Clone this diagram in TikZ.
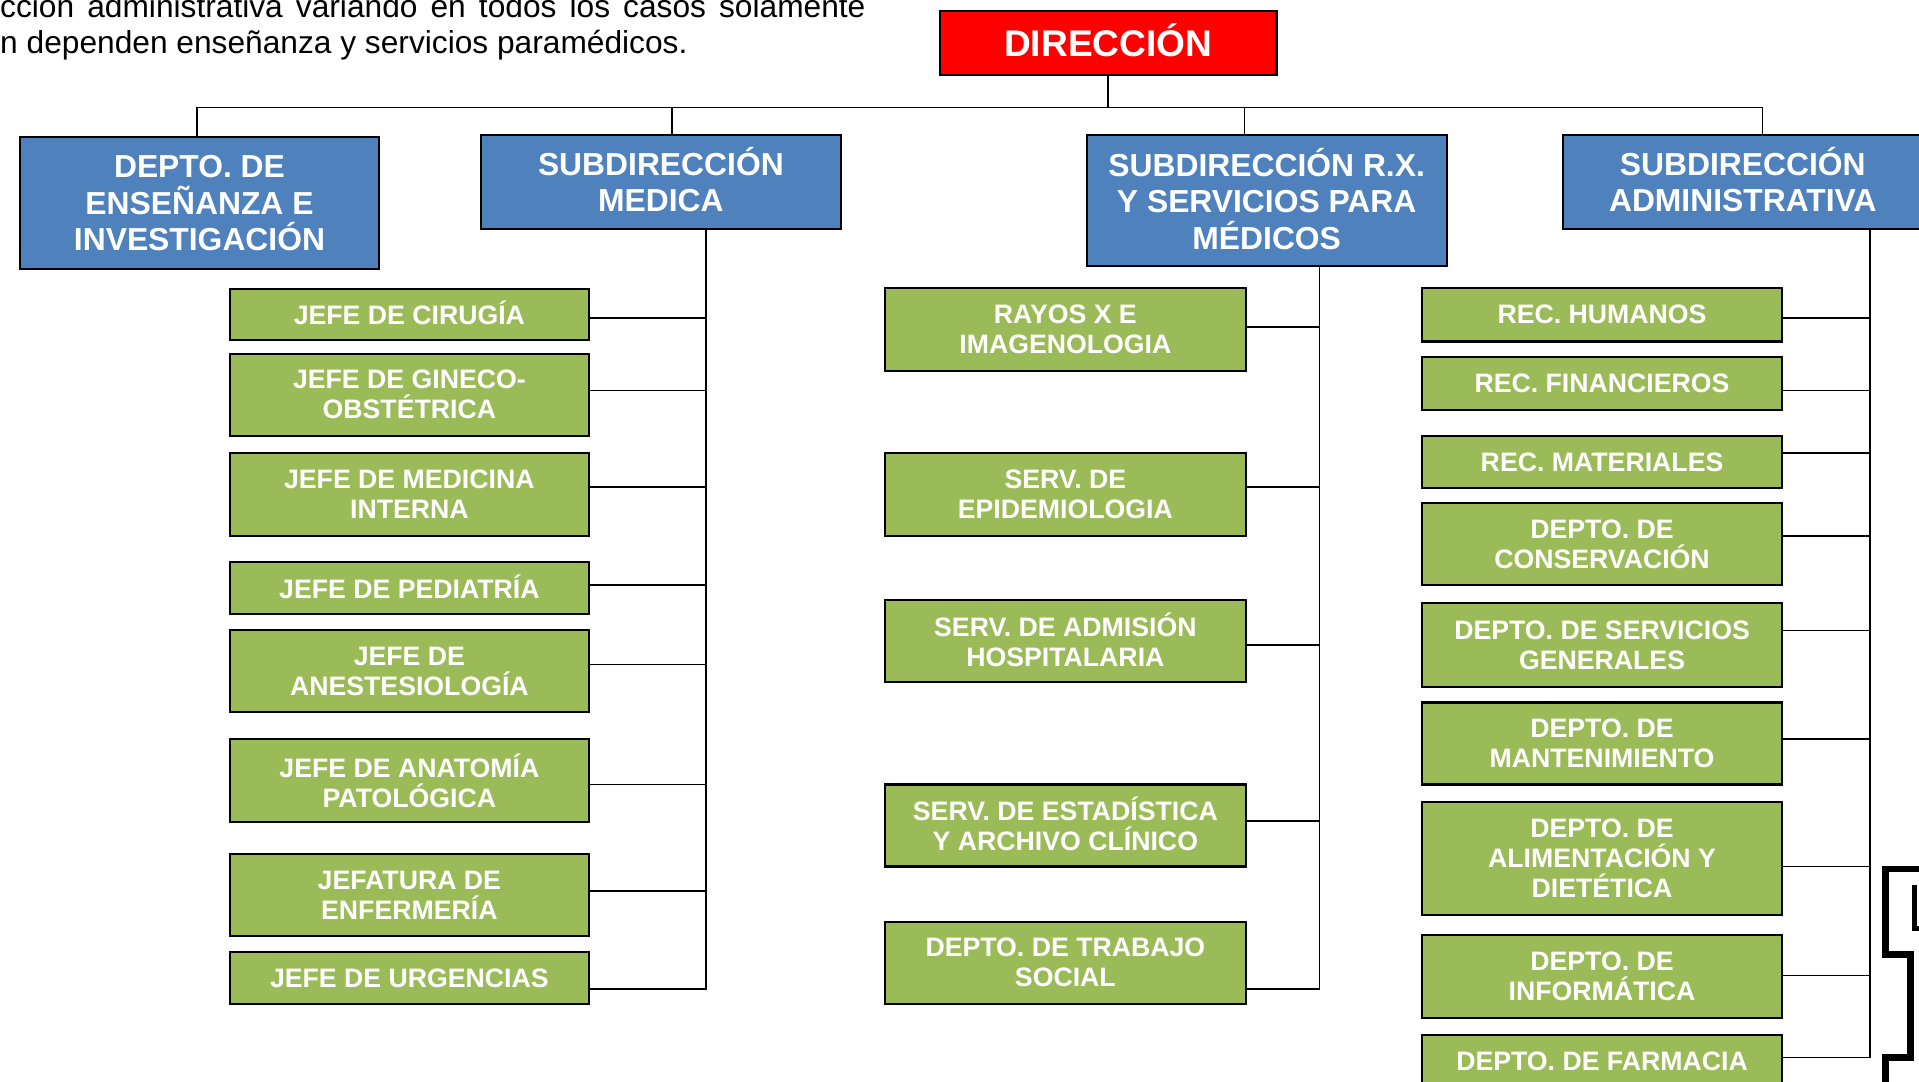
\documentclass[tikz,border=0pt]{standalone}
\usepackage{fontspec}
\setmainfont{Liberation Sans}
\definecolor{dirred}{HTML}{FF0000}
\definecolor{subblue}{HTML}{4F81BD}
\definecolor{unitgreen}{HTML}{9BBB59}
\newcommand\liftby[1]{\rule[-#1]{0pt}{#1}}
\begin{document}
\begin{tikzpicture}[x=1pt,y=-1pt,
  box/.style={draw=black, line width=1.7pt, rectangle, inner sep=0pt, outer sep=0pt, anchor=north west, align=center, text=white},
  dirbox/.style={box, fill=dirred, font=\fontsize{30.3}{34}\selectfont\bfseries},
  subbox/.style={box, fill=subblue, font=\fontsize{26}{30}\selectfont\bfseries, minimum width=294pt},
  unitbox/.style={box, fill=unitgreen, font=\fontsize{21.8}{24.5}\selectfont\bfseries, minimum width=294pt},
  link/.style={line width=1.3pt, draw=black},
  bodytext/.style={anchor=base west, inner sep=0pt, font=\fontsize{25.9}{29.8}\selectfont},
  edgeshape/.style={line width=5.5pt, draw=black, line join=miter}]
\useasboundingbox (0,0) rectangle (1568,884);

% intro text
\node[bodytext] (t1) at (0,14) {\makebox[707pt][s]{cción administrativa variando en todos los casos solamente}};
\node[bodytext] (t2) at (0,44) {n dependen enseñanza y servicios paramédicos.};

% top level
\node[dirbox, minimum width=275pt, minimum height=52pt] (dir) at (768,9) {DIRECCIÓN\liftby{4pt}};
\node[subbox, minimum height=108pt] (ens) at (16,112) {DEPTO. DE\\ENSEÑANZA E\\INVESTIGACIÓN};
\node[subbox, minimum height=77pt] (med) at (393,110) {SUBDIRECCIÓN\\MEDICA\liftby{4pt}};
\node[subbox, minimum height=107pt] (rx) at (888,110) {SUBDIRECCIÓN R.X.\\Y SERVICIOS PARA\\MÉDICOS\liftby{2pt}};
\node[subbox, minimum height=77pt] (adm) at (1277,110) {SUBDIRECCIÓN\\ADMINISTRATIVA\liftby{4pt}};

% main bar
\draw[link] (dir.south) -- (dir.south |- 0,88);
\draw[link] (ens.north -| 161,0) -- (161,88) -- (1440,88) -- (adm.north -| 1440,0);
\draw[link] (med.north -| 549,0) -- (549,88);
\draw[link] (rx.north -| 1017,0) -- (1017,88);

% medical column
\node[unitbox, minimum width=293pt, minimum height=42pt] (m1) at (188,236) {JEFE DE CIRUGÍA\liftby{3.5pt}};
\node[unitbox, minimum width=293pt, minimum height=67pt] (m2) at (188,289) {JEFE DE GINECO-\\OBSTÉTRICA};
\node[unitbox, minimum width=293pt, minimum height=68pt] (m3) at (188,370) {JEFE DE MEDICINA\\INTERNA};
\node[unitbox, minimum width=293pt, minimum height=43pt] (m4) at (188,459) {JEFE DE PEDIATRÍA\liftby{2.5pt}};
\node[unitbox, minimum width=293pt, minimum height=67pt] (m5) at (188,515) {JEFE DE\\ANESTESIOLOGÍA};
\node[unitbox, minimum width=293pt, minimum height=68pt] (m6) at (188,604) {JEFE DE ANATOMÍA\\PATOLÓGICA};
\node[unitbox, minimum width=293pt, minimum height=67pt] (m7) at (188,698) {JEFATURA DE\\ENFERMERÍA};
\node[unitbox, minimum width=293pt, minimum height=42pt] (m8) at (188,778) {JEFE DE URGENCIAS};
\coordinate (mbus) at (577,0);
\draw[link] (med.south -| mbus) -- (mbus |- 0,808) -- (m8.east |- 0,808);
\draw[link] (m1.east |- 0,260) -- (mbus |- 0,260);
\draw[link] (m2.east |- 0,319) -- (mbus |- 0,319);
\draw[link] (m3.east |- 0,398) -- (mbus |- 0,398);
\draw[link] (m4.east |- 0,478) -- (mbus |- 0,478);
\draw[link] (m5.east |- 0,543) -- (mbus |- 0,543);
\draw[link] (m6.east |- 0,641) -- (mbus |- 0,641);
\draw[link] (m7.east |- 0,728) -- (mbus |- 0,728);

% rx column
\node[unitbox, minimum width=295pt, minimum height=68pt] (r1) at (723,235) {RAYOS X E\\IMAGENOLOGIA};
\node[unitbox, minimum width=295pt, minimum height=68pt] (r2) at (723,370) {SERV. DE\\EPIDEMIOLOGIA};
\node[unitbox, minimum width=295pt, minimum height=67pt] (r3) at (723,490) {SERV. DE ADMISIÓN\\HOSPITALARIA\liftby{2pt}};
\node[unitbox, minimum width=295pt, minimum height=67pt] (r4) at (723,641) {SERV. DE ESTADÍSTICA\\Y ARCHIVO CLÍNICO\liftby{3pt}};
\node[unitbox, minimum width=295pt, minimum height=67pt] (r5) at (723,753) {DEPTO. DE TRABAJO\\SOCIAL};
\coordinate (rbus) at (1078,0);
\draw[link] (rx.south -| rbus) -- (rbus |- 0,808) -- (r5.east |- 0,808);
\draw[link] (r1.east |- 0,267) -- (rbus |- 0,267);
\draw[link] (r2.east |- 0,398) -- (rbus |- 0,398);
\draw[link] (r3.east |- 0,527) -- (rbus |- 0,527);
\draw[link] (r4.east |- 0,671) -- (rbus |- 0,671);

% administrative column
\node[unitbox, minimum height=44pt] (a1) at (1162,235) {REC. HUMANOS};
\node[unitbox, minimum height=43pt] (a2) at (1162,292) {REC. FINANCIEROS};
\node[unitbox, minimum height=43pt] (a3) at (1162,356) {REC. MATERIALES};
\node[unitbox, minimum height=67pt] (a4) at (1162,411) {DEPTO. DE\\CONSERVACIÓN};
\node[unitbox, minimum height=68pt] (a5) at (1162,493) {DEPTO. DE SERVICIOS\\GENERALES};
\node[unitbox, minimum height=67pt] (a6) at (1162,574) {DEPTO. DE\\MANTENIMIENTO};
\node[unitbox, minimum height=93pt] (a7) at (1162,655) {DEPTO. DE\\ALIMENTACIÓN Y\\DIETÉTICA};
\node[unitbox, minimum height=68pt] (a8) at (1162,764) {DEPTO. DE\\INFORMÁTICA};
\node[unitbox, minimum height=43pt] (a9) at (1162,846) {DEPTO. DE FARMACIA};
\coordinate (abus) at (1528,0);
\draw[link] (adm.south -| abus) -- (abus |- 0,864) -- (a9.east |- 0,864);
\draw[link] (a1.east |- 0,260) -- (abus |- 0,260);
\draw[link] (a2.east |- 0,319) -- (abus |- 0,319);
\draw[link] (a3.east |- 0,370) -- (abus |- 0,370);
\draw[link] (a4.east |- 0,438) -- (abus |- 0,438);
\draw[link] (a5.east |- 0,515) -- (abus |- 0,515);
\draw[link] (a6.east |- 0,604) -- (abus |- 0,604);
\draw[link] (a7.east |- 0,708) -- (abus |- 0,708);
\draw[link] (a8.east |- 0,797) -- (abus |- 0,797);

% partial shape at right edge
\draw[edgeshape] (1575,710) -- (1540.5,710) -- (1540.5,780) -- (1561,780) -- (1561,864) -- (1540.5,864) -- (1540.5,895);
\draw[edgeshape, line width=4pt] (1564,723) -- (1564,759) -- (1575,759);
\end{tikzpicture}
\end{document}
